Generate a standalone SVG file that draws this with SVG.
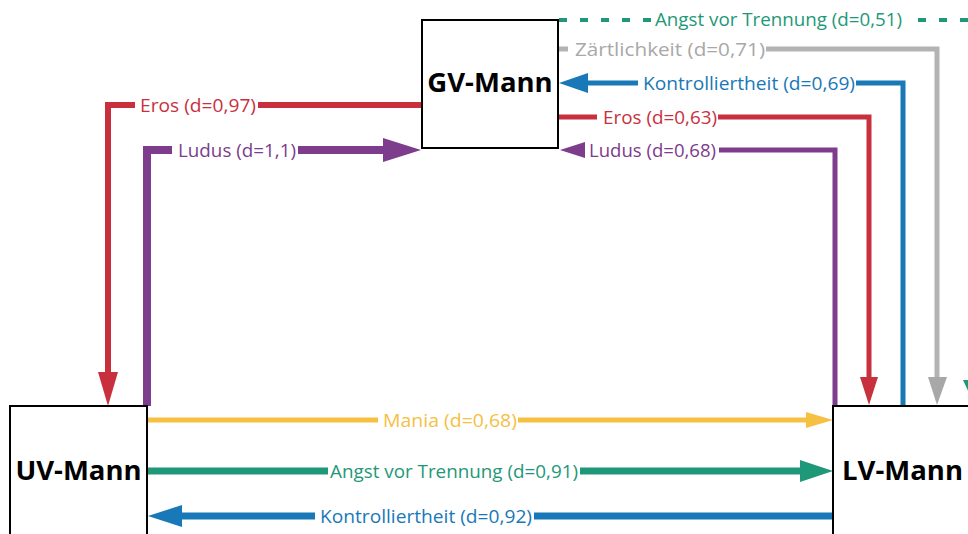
<svg xmlns="http://www.w3.org/2000/svg" width="968" height="534" viewBox="0 0 968 534">
<style>
.box{fill:#fff;stroke:#000;stroke-width:2}
.nt{font-family:"Open Sans","Liberation Sans",sans-serif;font-weight:bold;font-size:27.5px;fill:#000;text-anchor:middle}
.lb{font-family:"Open Sans","Liberation Sans",sans-serif;font-size:18.5px}
.ln{fill:none;stroke-linejoin:miter;stroke-linecap:butt}
.red{stroke:#C9303E}.redf{fill:#C9303E}
.pur{stroke:#7D3C8C}.purf{fill:#7D3C8C}
.tea{stroke:#1E9878}.teaf{fill:#1E9878}
.blu{stroke:#1878B8}.bluf{fill:#1878B8}
.yel{stroke:#F6C043}.yelf{fill:#F6C043}
.gry{stroke:#B3B3B3}.gryf{fill:#A8A8A8}
</style>
<rect width="968" height="534" fill="#fff"/>
<g id="connectors">
  <g id="eros097">
    <polyline class="ln red" stroke-width="6" points="422,105 258,105"/>
    <polyline class="ln red" stroke-width="6" points="135,105 108,105 108,374"/>
    <polygon class="redf" points="98,372 118,372 108,406"/>
    <text class="lb redf" x="140" y="111.5" textLength="116" lengthAdjust="spacingAndGlyphs">Eros (d=0,97)</text>
  </g>
  <g id="ludus11">
    <polyline class="ln pur" stroke-width="8" points="147,406 147,150 172,150"/>
    <polyline class="ln pur" stroke-width="8" points="298,150 385,150"/>
    <polygon class="purf" points="383,138 383,162 421,150"/>
    <text class="lb purf" x="178" y="156.5" textLength="118" lengthAdjust="spacingAndGlyphs">Ludus (d=1,1)</text>
  </g>
  <g id="mania">
    <polyline class="ln yel" stroke-width="5" points="148,420 378,420"/>
    <polyline class="ln yel" stroke-width="5" points="518,420 808,420"/>
    <polygon class="yelf" points="806,412 806,428 833,420"/>
    <text class="lb yelf" x="383" y="426.5" textLength="134" lengthAdjust="spacingAndGlyphs">Mania (d=0,68)</text>
  </g>
  <g id="angst091">
    <polyline class="ln tea" stroke-width="7" points="148,471 328,471"/>
    <polyline class="ln tea" stroke-width="7" points="580,471 802,471"/>
    <polygon class="teaf" points="800,460 800,482 833,471"/>
    <text class="lb teaf" x="330" y="477.5" textLength="248" lengthAdjust="spacingAndGlyphs">Angst vor Trennung (d=0,91)</text>
  </g>
  <g id="kontroll092">
    <polyline class="ln blu" stroke-width="7" points="833,516 534,516"/>
    <polyline class="ln blu" stroke-width="7" points="315,516 180,516"/>
    <polygon class="bluf" points="182,505 182,527 148,516"/>
    <text class="lb bluf" x="320" y="522.5" textLength="212" lengthAdjust="spacingAndGlyphs">Kontrolliertheit (d=0,92)</text>
  </g>
  <g id="angst051">
    <polyline class="ln tea" stroke-width="4" stroke-dasharray="8 13" points="559,20 652,20"/>
    <polyline class="ln tea" stroke-width="4" stroke-dasharray="8 13" stroke-dashoffset="-6" points="912,20 975,20 975,382"/>
    <polygon class="teaf" points="963,380 987,380 975,406"/>
    <text class="lb teaf" x="655" y="26" textLength="247" lengthAdjust="spacingAndGlyphs">Angst vor Trennung (d=0,51)</text>
  </g>
  <g id="zart071">
    <polyline class="ln gry" stroke-width="5" points="558,49 568,49"/>
    <polyline class="ln gry" stroke-width="5" points="766,49 937,49 937,379"/>
    <polygon class="gryf" points="928,377 947,377 937,405"/>
    <text class="lb gryf" x="575" y="55.5" textLength="190" lengthAdjust="spacingAndGlyphs">Zärtlichkeit (d=0,71)</text>
  </g>
  <g id="kontroll069">
    <polyline class="ln blu" stroke-width="5" points="903,406 903,83 856,83"/>
    <polyline class="ln blu" stroke-width="5" points="638,83 586,83"/>
    <polygon class="bluf" points="588,73 588,93 559,83"/>
    <text class="lb bluf" x="643" y="89.5" textLength="212" lengthAdjust="spacingAndGlyphs">Kontrolliertheit (d=0,69)</text>
  </g>
  <g id="eros063">
    <polyline class="ln red" stroke-width="5" points="558,117 597,117"/>
    <polyline class="ln red" stroke-width="5" points="718,117 869,117 869,379"/>
    <polygon class="redf" points="860,377 878,377 869,405"/>
    <text class="lb redf" x="603" y="123.5" textLength="114" lengthAdjust="spacingAndGlyphs">Eros (d=0,63)</text>
  </g>
  <g id="ludus068">
    <polyline class="ln pur" stroke-width="5" points="835,406 835,150 719,150"/>
    <polygon class="purf" points="585,142 585,158 560,150"/>
    <text class="lb purf" x="589" y="156.5" textLength="127" lengthAdjust="spacingAndGlyphs">Ludus (d=0,68)</text>
  </g>
</g>
<g id="gv-mann">
  <rect class="box" x="422" y="20" width="136" height="128"/>
  <text class="nt" x="490" y="92">GV-Mann</text>
</g>
<g id="uv-mann">
  <rect class="box" x="10" y="406" width="137" height="140"/>
  <text class="nt" x="78.5" y="480">UV-Mann</text>
</g>
<g id="lv-mann">
  <rect class="box" x="833" y="406" width="140" height="140"/>
  <text class="nt" x="902.5" y="480">LV-Mann</text>
</g>
</svg>
